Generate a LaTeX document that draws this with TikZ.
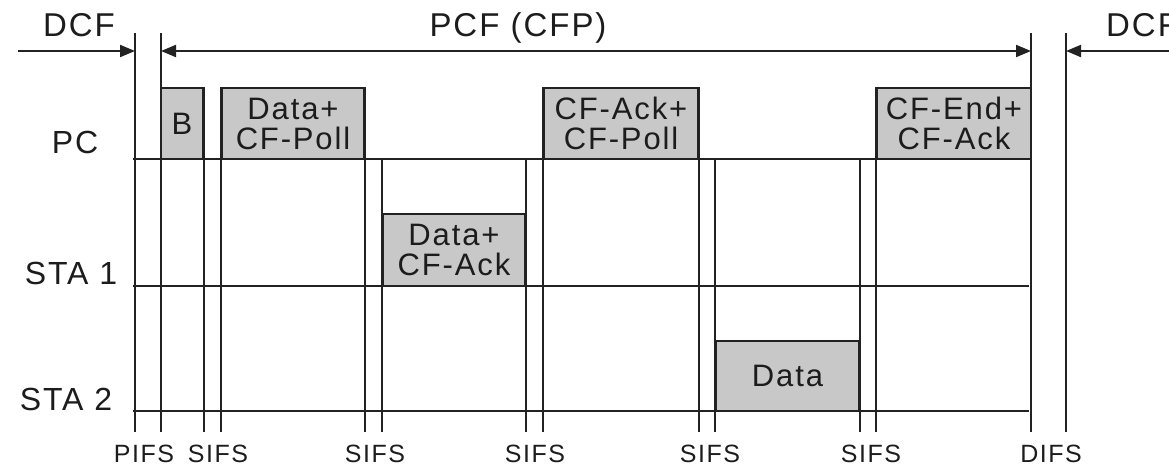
\documentclass[tikz,border=0pt]{standalone}
\usepackage{fontspec}
\setmainfont{Liberation Sans}[LetterSpace=6]
\usetikzlibrary{arrows.meta}
\definecolor{boxgray}{RGB}{200,200,200}
\definecolor{linec}{RGB}{34,34,34}
\definecolor{txt}{RGB}{28,28,28}
\begin{document}
\begin{tikzpicture}[x=1pt,y=-1pt,
  ln/.style={draw=linec, line width=2pt},
  frame/.style={draw=linec, line width=2pt, fill=boxgray, inner sep=0pt,
    align=center, text=txt, font=\fontsize{31}{30}\selectfont},
  span/.style={ln, -{Triangle[length=15pt,width=12pt]}},
  spanboth/.style={ln, {Triangle[length=15pt,width=12pt]}-{Triangle[length=15pt,width=12pt]}},
  biglab/.style={anchor=base, text=txt, inner sep=0pt, font=\fontsize{33}{33}\selectfont},
  rowlab/.style={anchor=base, text=txt, inner sep=0pt, font=\fontsize{32}{32}\selectfont},
  gaplab/.style={anchor=base, text=txt, inner sep=0pt, font=\fontsize{25}{25}\selectfont}
]
\useasboundingbox (0,0) rectangle (1169,466);
\clip (0,0) rectangle (1169,466);

% reference coordinates
\coordinate (top) at (0,33);
\coordinate (bot) at (0,432);
\coordinate (pcy) at (0,159);
\coordinate (s1y) at (0,286);
\coordinate (s2y) at (0,411);

% frames
\node[frame, minimum width=42, minimum height=71] (b) at (182,123.5) {B};
\node[frame, minimum width=142, minimum height=71] (dp) at (293,123.5) {Data+\\CF-Poll};
\node[frame, minimum width=142, minimum height=72] (da) at (454,250) {Data+\\CF-Ack};
\node[frame, minimum width=154, minimum height=71] (ap) at (621,123.5) {CF-Ack+\\CF-Poll};
\node[frame, minimum width=143, minimum height=70] (d2) at (787.5,376) {Data};
\node[frame, minimum width=154, minimum height=71] (ea) at (954,123.5) {CF-End+\\CF-Ack};

% period boundaries
\coordinate (p1) at (135,33);
\coordinate (p2) at (161,33);
\coordinate (p3) at (1031,33);
\coordinate (p4) at (1066,33);
\foreach \p in {p1,p2,p3,p4}
  \draw[ln] (\p) -- (\p |- bot);

% frame edges carried down to the time axis
\foreach \e in {b.north east, dp.north west, dp.north east, ap.north west, ap.north east, ea.north west}
  \draw[ln] (\e) -- (\e |- bot);
\foreach \e in {da.north west, da.north east, d2.north west, d2.north east}
  \draw[ln] (\e |- pcy) -- (\e |- bot);

% station time lines
\coordinate (l0) at (133,0);
\coordinate (l1) at (1029,0);
\draw[ln] (l0 |- pcy) -- (l1 |- pcy);
\draw[ln] (l0 |- s1y) -- (l1 |- s1y);
\draw[ln] (l0 |- s2y) -- (l1 |- s2y);

% period arrows
\coordinate (a0) at (18,51);
\coordinate (a1) at (1169,51);
\draw[span] (a0) -- (a0 -| p1);
\draw[spanboth] (a0 -| p2) -- (a0 -| p3);
\draw[span] (a1) -- (a0 -| p4);

% period labels
\node[biglab] (dcf1) at (79,36) {DCF};
\node[biglab] (pcf) at (518,36) {PCF (CFP)};
\node[biglab, anchor=base west] (dcf2) at (1106,36) {DCF};

% station labels
\node[rowlab] (pc) at (75,153) {PC};
\node[rowlab] (sta1) at (71,284) {STA 1};
\node[rowlab] (sta2) at (66,410) {STA 2};

% interframe spaces
\node[gaplab] (g1) at (144,462) {PIFS};
\node[gaplab] (g2) at (218,462) {SIFS};
\node[gaplab] (g3) at (375,462) {SIFS};
\node[gaplab] (g4) at (535,462) {SIFS};
\node[gaplab] (g5) at (710,462) {SIFS};
\node[gaplab] (g6) at (871,462) {SIFS};
\node[gaplab] (g7) at (1051,462) {DIFS};
\end{tikzpicture}
\end{document}
